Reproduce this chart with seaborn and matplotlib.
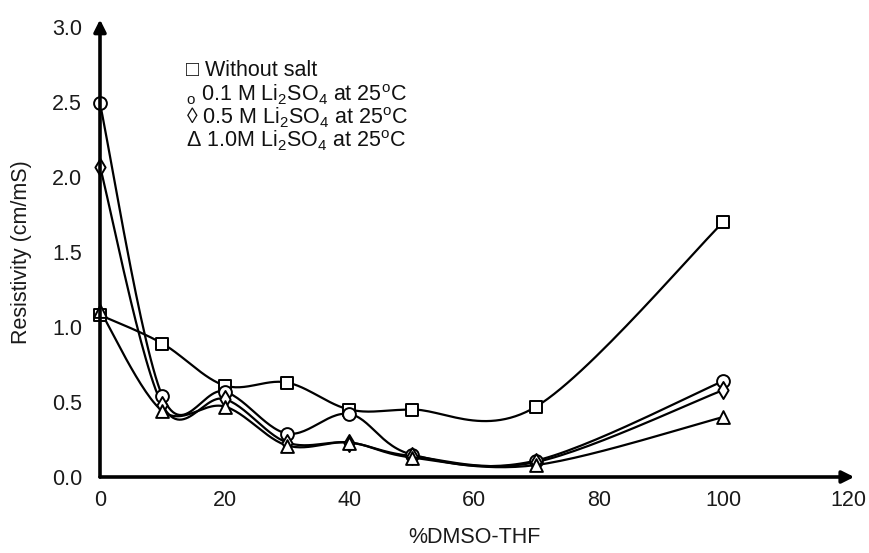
import numpy as np
import pandas as pd
import matplotlib
matplotlib.use("Agg")
import matplotlib.pyplot as plt
import seaborn as sns

# ---- data ----
x_pct = [0, 10, 20, 30, 40, 50, 70, 100]
without_salt = [1.08, 0.89, 0.61, 0.63, 0.45, 0.45, 0.47, 1.70]
li_01 = [2.49, 0.54, 0.57, 0.29, 0.42, 0.15, 0.11, 0.64]
li_05 = [2.07, 0.48, 0.52, 0.23, 0.23, 0.14, 0.10, 0.58]
li_10 = [1.11, 0.44, 0.47, 0.21, 0.23, 0.13, 0.08, 0.40]
series_names = ["Without salt", "0.1 M", "0.5 M", "1.0 M"]
x_ticks = [0, 20, 40, 60, 80, 100, 120]
y_ticks = [0.0, 0.5, 1.0, 1.5, 2.0, 2.5, 3.0]

sns.set_theme(style="white")
plt.rcParams["font.family"] = ["Liberation Sans", "DejaVu Sans"]
plt.rcParams["mathtext.fontset"] = "custom"
plt.rcParams["mathtext.rm"] = "Liberation Sans"
plt.rcParams["mathtext.default"] = "regular"

FS = 15.5


def smooth(xs, ys, n=30):
    """Excel-like smoothed line (Bezier with Catmull-Rom control points)."""
    P = np.column_stack([xs, ys]).astype(float)
    out = []
    m = len(P)
    for i in range(m - 1):
        p0 = P[i - 1] if i > 0 else P[i]
        p1 = P[i]
        p2 = P[i + 1]
        p3 = P[i + 2] if i + 2 < m else P[i + 1]
        c1 = p1 + (p2 - p0) / 6.0
        c2 = p2 - (p3 - p1) / 6.0
        t = np.linspace(0, 1, n)[:, None]
        seg = ((1 - t) ** 3) * p1 + 3 * ((1 - t) ** 2) * t * c1 + 3 * (1 - t) * t ** 2 * c2 + t ** 3 * p2
        if i > 0:
            seg = seg[1:]
        out.append(seg)
    out = np.vstack(out)
    return out[:, 0], out[:, 1]


fig = plt.figure(figsize=(8.7, 5.53), dpi=100)
ax = fig.add_axes([100 / 870, 76 / 553, 748 / 870, 450 / 553])

all_series = [without_salt, li_01, li_05, li_10]
markers = ["s", "o", "d", "^"]
msizes = [80, 85, 75, 85]
for ys in all_series:
    sx, sy = smooth(x_pct, ys)
    sns.lineplot(x=sx, y=sy, sort=False, estimator=None, color="black",
                 linewidth=1.6, ax=ax, zorder=2)
for ys, mk, ms in zip(all_series, markers, msizes):
    sns.scatterplot(x=x_pct, y=ys, marker=mk, s=ms, facecolor="white",
                    edgecolor="black", linewidth=1.4, ax=ax, zorder=3, clip_on=False)

ax.set_xlim(0, 120)
ax.set_ylim(0, 3.0)
ax.set_xticks(x_ticks)
ax.set_yticks(y_ticks)
ax.set_xticklabels([str(v) for v in x_ticks])
ax.set_yticklabels([f"{v:.1f}" for v in y_ticks])
ax.tick_params(axis="both", length=0, labelsize=FS, colors="#1a1a1a")
ax.tick_params(axis="y", pad=13)
ax.tick_params(axis="x", pad=9)
for s in ["top", "right", "left", "bottom"]:
    ax.spines[s].set_visible(False)

# axes with arrows
ax.annotate("", xy=(121, 0), xytext=(0, 0), xycoords="data",
            arrowprops=dict(arrowstyle="-|>", color="black", lw=2.6,
                            mutation_scale=18, shrinkA=0, shrinkB=0),
            annotation_clip=False)
ax.annotate("", xy=(0, 3.05), xytext=(0, 0), xycoords="data",
            arrowprops=dict(arrowstyle="-|>", color="black", lw=2.6,
                            mutation_scale=18, shrinkA=0, shrinkB=0),
            annotation_clip=False)

ax.set_xlabel("%DMSO-THF", fontsize=FS, color="#1a1a1a")
ax.set_ylabel("Resistivity (cm/mS)", fontsize=FS, color="#1a1a1a")
ax.xaxis.set_label_coords(0.5, -(527 - 477) / 450)
ax.yaxis.set_label_coords(-(100 - 32) / 748, 0.5)

# legend as text
leg_lines = [
    "\u25a1 Without salt",
    "$_{o}$ 0.1 M Li$_2$SO$_4$ at 25$^o$C",
    "\u25ca 0.5 M Li$_2$SO$_4$ at 25$^o$C",
    "\u0394 1.0M Li$_2$SO$_4$ at 25$^o$C",
]
leg_y = [70, 95, 118, 141]
for t, yy in zip(leg_lines, leg_y):
    fig.text(186 / 870, 1 - yy / 553, t, fontsize=FS, va="center", ha="left",
             color="#111111")

fig.savefig("out.png", dpi=100)
